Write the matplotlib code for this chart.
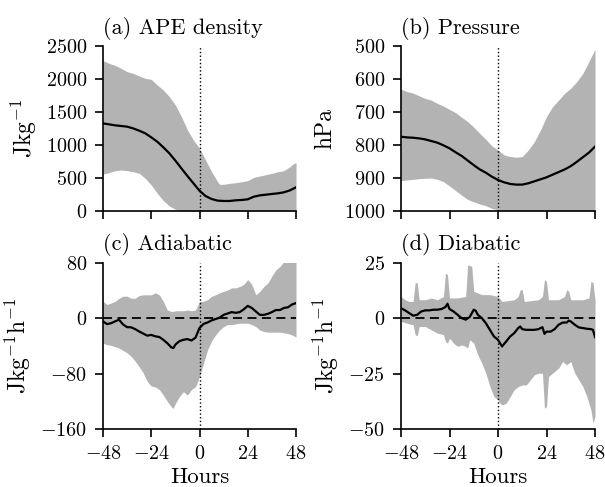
import numpy as np
import matplotlib
matplotlib.use("Agg")
import matplotlib.pyplot as plt

plt.rcParams['font.family'] = ['cmr10', 'DejaVu Serif']
plt.rcParams['mathtext.fontset'] = 'cm'
plt.rcParams['axes.formatter.use_mathtext'] = True
plt.rcParams['font.size'] = 14.5

# ---------------- data ----------------
# (a) APE density
ape_h = [-48, -45, -42, -39, -36, -33, -30, -27, -24, -21, -18, -15, -12, -9, -6, -3, 0,
         3, 6, 9, 12, 15, 18, 21, 24, 27, 30, 33, 36, 39, 42, 45, 48]
ape_mean = [1328, 1313, 1298, 1288, 1278, 1252, 1217, 1177, 1116, 1050, 965, 874, 763, 646, 530, 419, 308,
            227, 182, 157, 152, 152, 162, 167, 177, 217, 237, 247, 258, 268, 283, 313, 359]
ape_up_h = [-48, -45, -42, -39, -36, -33, -30, -27, -24, -21, -18, -15, -12, -9, -6, -3, 0,
            3, 6, 9, 10, 12, 15, 18, 21, 24, 27, 30, 33, 36, 39, 42, 45, 47, 48]
ape_up = [2278, 2237, 2207, 2161, 2111, 2086, 2045, 2010, 1995, 1909, 1833, 1732, 1606, 1429, 1227, 1076, 949,
          773, 596, 444, 404, 404, 419, 429, 444, 460, 510, 530, 550, 571, 596, 611, 672, 722, 732]
ape_lo_h = [-48, -45, -42, -39, -36, -33, -30, -27, -24, -21, -18, -15, -12, -10, 48]
ape_lo = [560, 581, 611, 621, 611, 596, 571, 495, 394, 268, 157, 76, 25, 0, 0]

# (b) Pressure
p_h = [-48, -45, -42, -39, -36, -33, -30, -27, -24, -21, -18, -15, -12, -9, -6, -3, 0,
       3, 6, 9, 12, 15, 18, 21, 24, 27, 30, 33, 36, 39, 42, 45, 48]
p_mean = [775, 777, 778, 780, 783, 788, 793, 801, 810, 822, 833, 847, 861, 874, 884, 896, 906,
          913, 918, 920, 920, 916, 910, 904, 898, 890, 882, 874, 864, 851, 837, 823, 805]
p_up = [631, 638, 643, 651, 659, 664, 674, 682, 692, 702, 716, 729, 746, 765, 783, 803, 815,
        830, 835, 837, 835, 815, 790, 755, 714, 684, 664, 643, 628, 608, 583, 547, 510]
p_lo_h = [-48, -45, -42, -39, -36, -33, -30, -27, -24, -21, -18, -15, -12, -9, -6, -3, 0, 3, 48]
p_lo = [908, 906, 904, 902, 901, 900, 904, 911, 924, 938, 952, 965, 972, 979, 984, 992, 997, 1000, 1000]

# (c) Adiabatic
ad_h = [-48, -46, -44, -42, -40, -38, -36, -34, -32, -30, -28, -26, -24, -22, -20, -18,
        -16, -14, -13, -12, -10, -8, -6, -4, -2, -1, 0, 2, 4, 6, 8, 10, 12, 14, 16, 18,
        20, 22, 24, 26, 28, 30, 32, 34, 36, 38, 40, 42, 44, 46, 48]
ad_mean = [-4.4, -8.4, -7, -4.4, -2, -9, -12.7, -13, -15.6, -19, -22, -25, -24, -26, -27, -31,
           -36, -42, -43, -38, -33, -31, -30, -32, -28, -21, -14, -8, -6, -3, -1, 1, 5, 7, 9, 8,
           9, 13, 18, 15, 10, 5, 5, 6.5, 9, 12, 12, 15, 16, 20, 22]
ad_up = [24.5, 20, 22, 24.5, 29, 32, 32, 29, 29, 33, 34, 34, 34, 37, 34, 24.5,
         12, 10, 10, 11, 11, 11, 12, 11, 12, 18, 24.5, 24.5, 27, 32, 34, 37, 39, 41, 44, 44,
         46, 49, 56, 49, 34, 39, 46, 51, 61, 70, 75, 82, 86, 88, 90]
ad_lo = [-36, -38, -39, -41, -43, -46.5, -50, -55, -62, -70, -79, -91, -98, -99, -103, -111,
         -120, -128, -130, -123, -113, -106, -111, -103, -99, -92, -84, -65, -45.5, -33, -24, -17, -12, -9, -9, -8,
         -7, -7, -7, -9, -12, -17, -19, -20, -20, -20, -20, -21, -22, -24, -27]

# (d) Diabatic
di_h = [-48, -46, -44, -42, -40, -38, -36, -34, -32, -30, -28, -26, -25, -24, -22, -20, -18,
        -16, -14, -12, -11, -10, -8, -6, -4, -2, 0, 1, 2, 4, 6, 8, 10, 11, 12, 14, 16, 18,
        20, 22, 23, 24, 26, 28, 30, 32, 34, 35, 36, 38, 40, 42, 44, 46, 47, 48]
di_mean = [4.6, 3.6, 2.4, 1.2, 1.6, 3.1, 3.6, 3.6, 3.9, 3.9, 4.2, 5.1, 6.6, 4.2, 3.1, 1.6, 0.1,
           -0.6, 0.6, 3.9, 3.4, 1.6, 0.1, -2.2, -5.2, -8.2, -9.7, -11.2, -12.7, -10.5, -8.2, -6.7, -4.4, -3.7, -4.9, -5.2, -5.2, -5.2,
           -4.9, -4.0, -7.0, -6.0, -6.0, -4.9, -2.9, -1.9, -1.9, -1.0, -1.4, -2.9, -4.1, -4.4, -4.7, -4.9, -5.2, -8.5]
di_up_h = [-48, -46, -44, -42, -41, -40, -39, -36, -33, -30, -27, -26, -25, -24, -20, -16, -15,
           -13, -12, -8, -4, 0, 2, 8, 10, 11, 12, 13, 20, 22, 23, 24, 25, 30, 33, 34, 35, 36,
           42, 45, 46, 47, 48]
di_up = [9.9, 8.4, 7.6, 7.6, 16, 16.2, 8.4, 8.4, 9.2, 8.4, 9.9, 20.5, 19.7, 9.2, 9.2, 9.9, 24.2,
         23.5, 12.2, 10.7, 10.7, 9.9, 7.6, 8.4, 9.9, 12.9, 12.9, 7.6, 8.4, 9.9, 17.5, 16.7, 8.4, 8.4, 9.9, 12.9, 12.2, 8.4,
         8.4, 9.2, 16.7, 16.2, 8.4]
di_lo_h = [-48, -46, -44, -42, -41, -40, -39, -36, -33, -30, -27, -26, -25, -24, -22, -20, -18,
           -16, -15, -14, -12, -10, -8, -6, -4, -2, 0, 1, 2, 4, 6, 8, 10, 12, 14, 16, 18,
           20, 22, 23, 24, 25, 28, 30, 32, 34, 36, 38, 40, 42, 44, 46, 47, 48]
di_lo = [-1.4, -1.9, -2.5, -2.9, -7.4, -7.9, -3.7, -3.7, -5.2, -6.7, -7.4, -10.5, -11.2, -9, -11.2, -12.7, -12,
         -12.7, -13.5, -9.7, -11.2, -16.5, -20.3, -24.8, -30.8, -35.4, -36.9, -38.4, -39.1, -38.4, -35.4, -32.3, -30.8, -30.1, -30.1, -27.8, -25.5,
         -24.8, -24.8, -40.6, -39.9, -26.3, -24.0, -22.5, -19.5, -21, -19.5, -24.8, -27.8, -30.8, -35.4, -41.4, -47.4, -44.4]

xticks = [-48, -24, 0, 24, 48]

# ---------------- plot ----------------
fig = plt.figure(figsize=(6.05, 4.87), dpi=100)
W, H = 605, 487
def ax_at(l, r, t, b):
    return fig.add_axes([l / W, 1 - b / H, (r - l) / W, (b - t) / H])

axa = ax_at(103, 296, 46, 211)
axb = ax_at(401, 595, 46, 211)
axc = ax_at(103, 296, 263, 429)
axd = ax_at(401, 595, 263, 429)

fillc = '#b3b3b3'
tfs = 16
yfs = 17

def band(ax, hu, up, hl, lo):
    grid = np.union1d(hu, hl)
    u = np.interp(grid, hu, up)
    l = np.interp(grid, hl, lo)
    ax.fill_between(grid, l, u, color=fillc, linewidth=0)

band(axa, ape_up_h, ape_up, ape_lo_h, ape_lo)
axa.plot(ape_h, ape_mean, color='k', lw=1.6)
axa.set_ylim(0, 2500)
axa.set_yticks([0, 500, 1000, 1500, 2000, 2500])
axa.set_ylabel(r'Jkg$^{-1}$', fontsize=yfs, labelpad=5)
axa.set_title('(a) APE density', fontsize=tfs, loc='left', pad=9)

band(axb, p_h, p_up, p_lo_h, p_lo)
axb.plot(p_h, p_mean, color='k', lw=1.6)
axb.set_ylim(1000, 500)
axb.set_yticks([500, 600, 700, 800, 900, 1000])
axb.set_ylabel('hPa', fontsize=yfs, labelpad=5)
axb.set_title('(b) Pressure', fontsize=tfs, loc='left', pad=9)

band(axc, ad_h, ad_up, ad_h, ad_lo)
axc.plot(ad_h, ad_mean, color='k', lw=1.6)
axc.axhline(0, color='k', ls=(0, (5, 3)), lw=1.3)
axc.set_ylim(-160, 80)
axc.set_yticks([-160, -80, 0, 80])
axc.set_ylabel(r'Jkg$^{-1}$h$^{-1}$', fontsize=yfs, labelpad=5)
axc.set_title('(c) Adiabatic', fontsize=tfs, loc='left', pad=9)

band(axd, di_up_h, di_up, di_lo_h, di_lo)
axd.plot(di_h, di_mean, color='k', lw=1.6)
axd.axhline(0, color='k', ls=(0, (5, 3)), lw=1.3)
axd.set_ylim(-50, 25)
axd.set_yticks([-50, -25, 0, 25])
axd.set_ylabel(r'Jkg$^{-1}$h$^{-1}$', fontsize=yfs, labelpad=5)
axd.set_title('(d) Diabatic', fontsize=tfs, loc='left', pad=9)

for ax in (axa, axb, axc, axd):
    ax.axvline(0, color='k', ls=':', lw=1.0)
    ax.set_xlim(-48, 48)
    ax.set_xticks(xticks)
    for s in ('top', 'right'):
        ax.spines[s].set_visible(False)
    for s in ('left', 'bottom'):
        ax.spines[s].set_linewidth(1.2)
    ax.tick_params(direction='out', length=5.5, width=1.2, pad=6, labelsize=14.5)

for ax in (axa, axb):
    ax.set_xticklabels([])
for ax in (axc, axd):
    ax.set_xlabel('Hours', fontsize=16.5, labelpad=3.5)

fig.savefig('out.png', dpi=100)
